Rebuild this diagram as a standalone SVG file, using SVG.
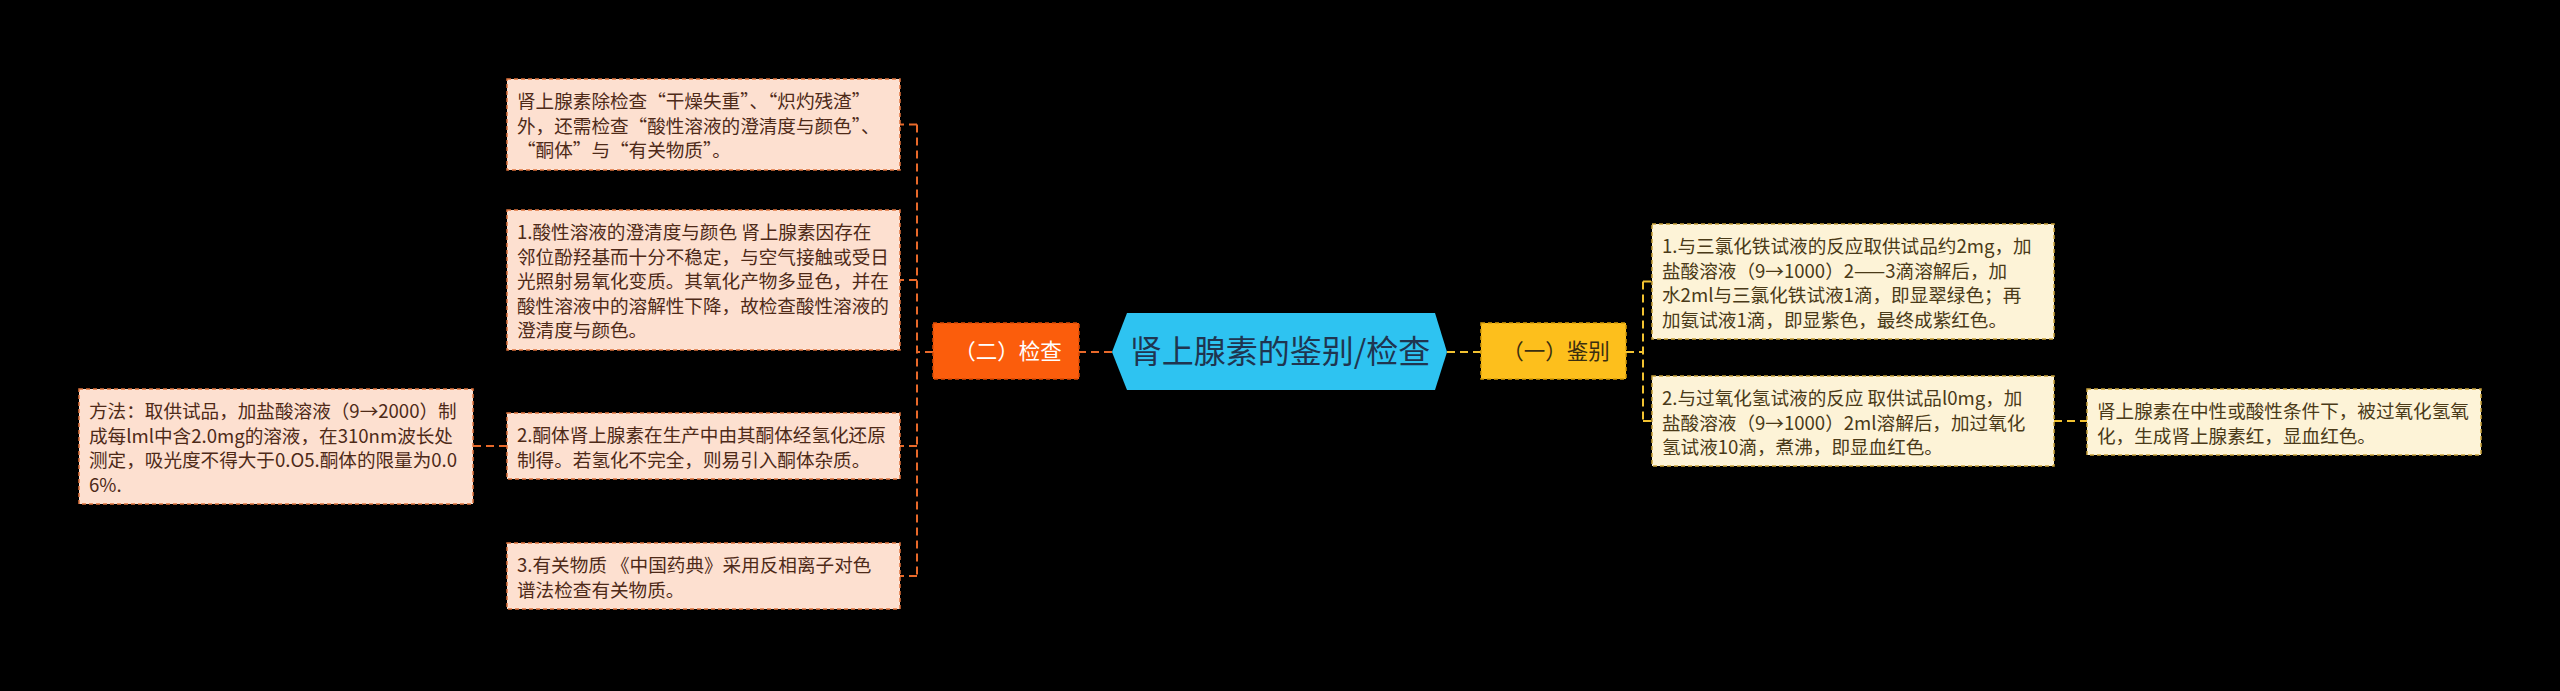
<svg xmlns="http://www.w3.org/2000/svg" width="2560" height="691" viewBox="0 0 2560 691">
<style>
text{font-family:"Noto Sans CJK SC","Noto Sans",sans-serif;}
.lt{font-size:18.6px;fill:#4e2a18;}
.rt{font-size:18.6px;fill:#4a3a18;}
.lbox{fill:#fde0d0;stroke:#e0733c;stroke-width:1.5;stroke-dasharray:4 3;}
.rbox{fill:#fdf3d7;stroke:#c9a23a;stroke-width:1.5;stroke-dasharray:4 3;}
.oc{fill:none;stroke:#e8692a;stroke-width:2;stroke-dasharray:8 5;}
.yc{fill:none;stroke:#f2c231;stroke-width:2;stroke-dasharray:8 5;}
</style>
<rect width="2560" height="691" fill="#000"/>
<g id="connectors">
<path class="oc" d="M1112 352 H1079"/>
<path class="oc" d="M933 352 H917 M917 124.5 V576 M917 124.5 H900 M917 280 H900 M917 446 H900 M917 576 H900"/>
<path class="oc" d="M507 446 H473"/>
<path class="yc" d="M1447 352 H1481"/>
<path class="yc" d="M1626 352 H1643 M1643 281.5 V421 M1643 281.5 H1652 M1643 421 H1652"/>
<path class="yc" d="M2054 421 H2087"/>
</g>
<g id="root">
<polygon points="1112,352 1127,313 1435,313 1447,352 1435,390 1127,390" fill="#2ec3f1"/>
<text x="1280" y="363" font-size="32" fill="#1f3550" text-anchor="middle">肾上腺素的鉴别/检查</text>
</g>
<g id="jiancha">
<rect x="933" y="323" width="146" height="56" fill="#fb5d0c" stroke="#d94a05" stroke-width="1.5" stroke-dasharray="4 3"/>
<text x="1008" y="359" font-size="21.5" fill="#fff" text-anchor="middle">（二）检查</text>
</g>
<g id="jianbie">
<rect x="1481" y="323" width="145" height="56" fill="#fdbf1c" stroke="#d69d08" stroke-width="1.5" stroke-dasharray="4 3"/>
<text x="1556" y="359" font-size="21.5" fill="#3a2e10" text-anchor="middle">（一）鉴别</text>
</g>
<g id="l1">
<rect class="lbox" x="507" y="79" width="393" height="91"/>
<text class="lt" x="517"><tspan x="517" y="108">肾上腺素除检查“干燥失重”、“炽灼残渣”</tspan><tspan x="517" y="132.5">外，还需检查“酸性溶液的澄清度与颜色”、</tspan><tspan x="517" y="157">“酮体”与“有关物质”。</tspan></text>
</g>
<g id="l2">
<rect class="lbox" x="507" y="210" width="393" height="140"/>
<text class="lt"><tspan x="517" y="239">1.酸性溶液的澄清度与颜色 肾上腺素因存在</tspan><tspan x="517" y="263.5">邻位酚羟基而十分不稳定，与空气接触或受日</tspan><tspan x="517" y="288">光照射易氧化变质。其氧化产物多显色，并在</tspan><tspan x="517" y="312.5">酸性溶液中的溶解性下降，故检查酸性溶液的</tspan><tspan x="517" y="337">澄清度与颜色。</tspan></text>
</g>
<g id="l3">
<rect class="lbox" x="507" y="413" width="393" height="66"/>
<text class="lt"><tspan x="517" y="442">2.酮体肾上腺素在生产中由其酮体经氢化还原</tspan><tspan x="517" y="466.5">制得。若氢化不完全，则易引入酮体杂质。</tspan></text>
</g>
<g id="l3a">
<rect class="lbox" x="79" y="389" width="394" height="115"/>
<text class="lt"><tspan x="89" y="418">方法：取供试品，加盐酸溶液（9→2000）制</tspan><tspan x="89" y="442.5">成每lml中含2.0mg的溶液，在310nm波长处</tspan><tspan x="89" y="467">测定，吸光度不得大于0.O5.酮体的限量为0.0</tspan><tspan x="89" y="491.5">6%.</tspan></text>
</g>
<g id="l4">
<rect class="lbox" x="507" y="543" width="393" height="66"/>
<text class="lt"><tspan x="517" y="572">3.有关物质 《中国药典》采用反相离子对色</tspan><tspan x="517" y="596.5">谱法检查有关物质。</tspan></text>
</g>
<g id="r1">
<rect class="rbox" x="1652" y="224" width="402" height="115"/>
<text class="rt"><tspan x="1662" y="253">1.与三氯化铁试液的反应取供试品约2mg，加</tspan><tspan x="1662" y="277.5">盐酸溶液（9→1000）2——3滴溶解后，加</tspan><tspan x="1662" y="302">水2ml与三氯化铁试液1滴，即显翠绿色；再</tspan><tspan x="1662" y="326.5">加氨试液1滴，即显紫色，最终成紫红色。</tspan></text>
</g>
<g id="r2">
<rect class="rbox" x="1652" y="376" width="402" height="90"/>
<text class="rt"><tspan x="1662" y="405">2.与过氧化氢试液的反应 取供试品l0mg，加</tspan><tspan x="1662" y="429.5">盐酸溶液（9→1000）2ml溶解后，加过氧化</tspan><tspan x="1662" y="454">氢试液10滴，煮沸，即显血红色。</tspan></text>
</g>
<g id="r2a">
<rect class="rbox" x="2087" y="389" width="394" height="66"/>
<text class="rt"><tspan x="2097" y="418">肾上腺素在中性或酸性条件下，被过氧化氢氧</tspan><tspan x="2097" y="442.5">化，生成肾上腺素红，显血红色。</tspan></text>
</g>
</svg>
